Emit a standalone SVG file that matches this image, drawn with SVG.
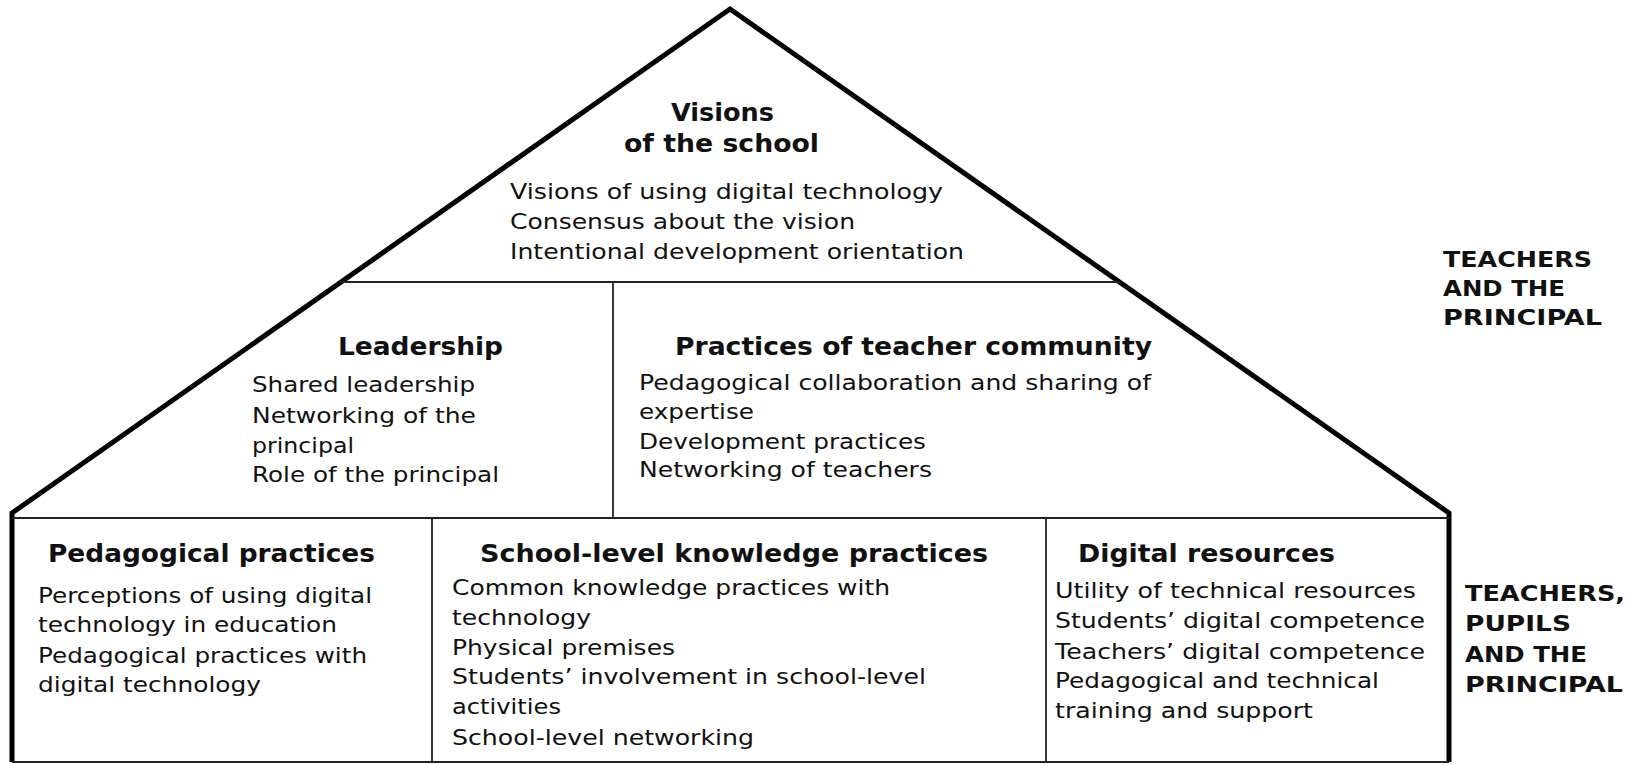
<svg xmlns="http://www.w3.org/2000/svg" width="1631" height="765" viewBox="0 0 1631 765">
<style>
text{font-family:"DejaVu Sans","Liberation Sans",sans-serif;fill:#111}
.b{font-size:22px}
.h{font-size:24px;font-weight:bold}
.l{font-size:22px;font-weight:bold}
.thick{fill:none;stroke:#000;stroke-width:5;stroke-linejoin:miter}
.thin{fill:none;stroke:#222;stroke-width:1.8}
</style>
<rect width="1631" height="765" fill="#fff"/>
<g id="frame">
<path class="thick" d="M12,762 L12,513 L730,9 L1449,513 L1449,762"/>
<line class="thin" x1="12" y1="762" x2="1449" y2="762"/>
<line class="thin" x1="340" y1="282" x2="1120" y2="282"/>
<line class="thin" x1="613" y1="282" x2="613" y2="518"/>
<line class="thin" x1="12" y1="518" x2="1449" y2="518"/>
<line class="thin" x1="432" y1="518" x2="432" y2="762"/>
<line class="thin" x1="1046" y1="518" x2="1046" y2="762"/>
</g>
<g id="visions">
<text class="h" x="671" y="121" textLength="103" lengthAdjust="spacingAndGlyphs">Visions</text>
<text class="h" x="624" y="152" textLength="195" lengthAdjust="spacingAndGlyphs">of the school</text>
<text class="b" x="510" y="199" textLength="433" lengthAdjust="spacingAndGlyphs">Visions of using digital  technology</text>
<text class="b" x="510" y="229" textLength="345" lengthAdjust="spacingAndGlyphs">Consensus about the vision</text>
<text class="b" x="510" y="259" textLength="454" lengthAdjust="spacingAndGlyphs">Intentional development orientation</text>
</g>
<g id="leadership">
<text class="h" x="338" y="355" textLength="165" lengthAdjust="spacingAndGlyphs">Leadership</text>
<text class="b" x="252" y="392" textLength="223" lengthAdjust="spacingAndGlyphs">Shared leadership</text>
<text class="b" x="252" y="423" textLength="224" lengthAdjust="spacingAndGlyphs">Networking of the</text>
<text class="b" x="252" y="453" textLength="102" lengthAdjust="spacingAndGlyphs">principal</text>
<text class="b" x="252" y="482" textLength="247" lengthAdjust="spacingAndGlyphs">Role of the principal</text>
</g>
<g id="teacher-community">
<text class="h" x="675" y="355" textLength="477" lengthAdjust="spacingAndGlyphs">Practices of teacher community</text>
<text class="b" x="639" y="390" textLength="512" lengthAdjust="spacingAndGlyphs">Pedagogical collaboration and sharing of</text>
<text class="b" x="639" y="419" textLength="115" lengthAdjust="spacingAndGlyphs">expertise</text>
<text class="b" x="639" y="449" textLength="287" lengthAdjust="spacingAndGlyphs">Development practices</text>
<text class="b" x="639" y="477" textLength="293" lengthAdjust="spacingAndGlyphs">Networking of teachers</text>
</g>
<g id="pedagogical-practices">
<text class="h" x="48" y="562" textLength="327" lengthAdjust="spacingAndGlyphs">Pedagogical practices</text>
<text class="b" x="38" y="603" textLength="334" lengthAdjust="spacingAndGlyphs">Perceptions of using digital</text>
<text class="b" x="38" y="632" textLength="299" lengthAdjust="spacingAndGlyphs">technology in education</text>
<text class="b" x="38" y="663" textLength="329" lengthAdjust="spacingAndGlyphs">Pedagogical practices with</text>
<text class="b" x="38" y="692" textLength="223" lengthAdjust="spacingAndGlyphs">digital technology</text>
</g>
<g id="knowledge-practices">
<text class="h" x="480" y="562" textLength="508" lengthAdjust="spacingAndGlyphs">School-level knowledge practices</text>
<text class="b" x="452" y="595" textLength="438" lengthAdjust="spacingAndGlyphs">Common knowledge practices with</text>
<text class="b" x="452" y="625" textLength="139" lengthAdjust="spacingAndGlyphs">technology</text>
<text class="b" x="452" y="655" textLength="223" lengthAdjust="spacingAndGlyphs">Physical premises</text>
<text class="b" x="452" y="684" textLength="474" lengthAdjust="spacingAndGlyphs">Students’ involvement in school-level</text>
<text class="b" x="452" y="714" textLength="109" lengthAdjust="spacingAndGlyphs">activities</text>
<text class="b" x="452" y="745" textLength="302" lengthAdjust="spacingAndGlyphs">School-level networking</text>
</g>
<g id="digital-resources">
<text class="h" x="1078" y="562" textLength="257" lengthAdjust="spacingAndGlyphs">Digital resources</text>
<text class="b" x="1055" y="598" textLength="361" lengthAdjust="spacingAndGlyphs">Utility of technical resources</text>
<text class="b" x="1055" y="628" textLength="370" lengthAdjust="spacingAndGlyphs">Students’ digital competence</text>
<text class="b" x="1055" y="659" textLength="370" lengthAdjust="spacingAndGlyphs">Teachers’ digital competence</text>
<text class="b" x="1055" y="688" textLength="324" lengthAdjust="spacingAndGlyphs">Pedagogical and technical</text>
<text class="b" x="1055" y="718" textLength="258" lengthAdjust="spacingAndGlyphs">training and support</text>
</g>
<g id="label-teachers-principal">
<text class="l" x="1443" y="267" textLength="149" lengthAdjust="spacingAndGlyphs">TEACHERS</text>
<text class="l" x="1443" y="296" textLength="122" lengthAdjust="spacingAndGlyphs">AND THE</text>
<text class="l" x="1443" y="325" textLength="159" lengthAdjust="spacingAndGlyphs">PRINCIPAL</text>
</g>
<g id="label-teachers-pupils-principal">
<text class="l" x="1465" y="601" textLength="160" lengthAdjust="spacingAndGlyphs">TEACHERS,</text>
<text class="l" x="1465" y="631" textLength="106" lengthAdjust="spacingAndGlyphs">PUPILS</text>
<text class="l" x="1465" y="662" textLength="122" lengthAdjust="spacingAndGlyphs">AND THE</text>
<text class="l" x="1465" y="692" textLength="158" lengthAdjust="spacingAndGlyphs">PRINCIPAL</text>
</g>
</svg>
